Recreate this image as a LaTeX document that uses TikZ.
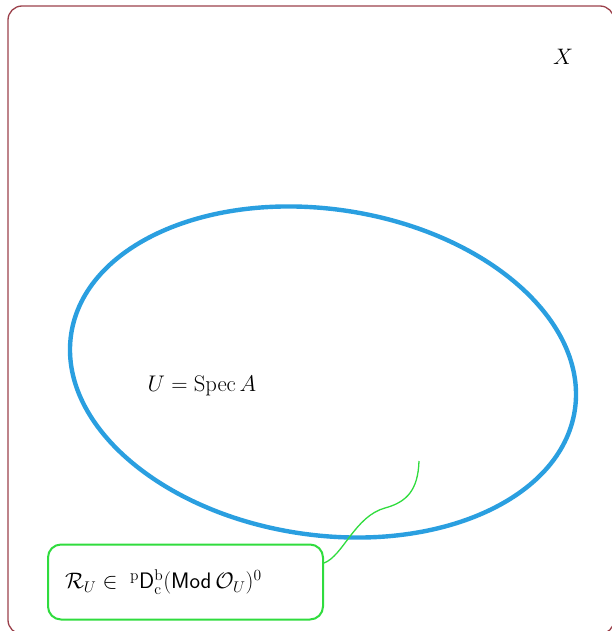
\documentclass[tikz,border=0pt]{standalone}
\usepackage{graphicx}
\usepackage{amsmath,amssymb}
\begin{document}
\begin{tikzpicture}[x=1pt,y=-1pt,
  frame/.style={draw=framecol,line width=1.3pt,rounded corners=14pt},
  blob/.style={draw=blobcol,line width=4.4pt},
  callbox/.style={draw=callcol,line width=2pt,rounded corners=13pt,minimum width=275pt,minimum height=75pt,text width=241pt,inner xsep=17pt,align=left,anchor=west},
  callline/.style={draw=callcol,line width=1.3pt},
  lab/.style={font=\huge,inner sep=0pt}]
\definecolor{framecol}{RGB}{155,65,75}
\definecolor{blobcol}{RGB}{42,159,224}
\definecolor{callcol}{RGB}{48,220,62}
\useasboundingbox (0,0) rectangle (612,631);
\draw[frame] (8,6) rectangle (614,634);
\node[lab] (X) at (563,57) {\scalebox{1.08}{$X$}};
\draw[blob] (323,372) ellipse [x radius=254.7pt, y radius=162.9pt, rotate=-8.6];
\node[lab] (U) at (202,386) {\scalebox{1.09}{$U=\operatorname{Spec}A$}};
\node[callbox,font=\huge] (rbox) at (47,582) {\raisebox{5pt}{\scalebox{1.08}{$\mathcal{R}_U\in\;{}^{\mathrm{p}}\mathsf{D}^{\mathrm{b}}_{\mathrm{c}}(\mathsf{Mod}\,\mathcal{O}_U)^0$}}};
\coordinate (tip) at (419,461);
\coordinate (mid) at (385,508);
\draw[callline] ([yshift=19pt]rbox.east) .. controls (343,556) and (355,516) .. (mid) .. controls (407,502) and (418,490) .. (tip);
\end{tikzpicture}
\end{document}
